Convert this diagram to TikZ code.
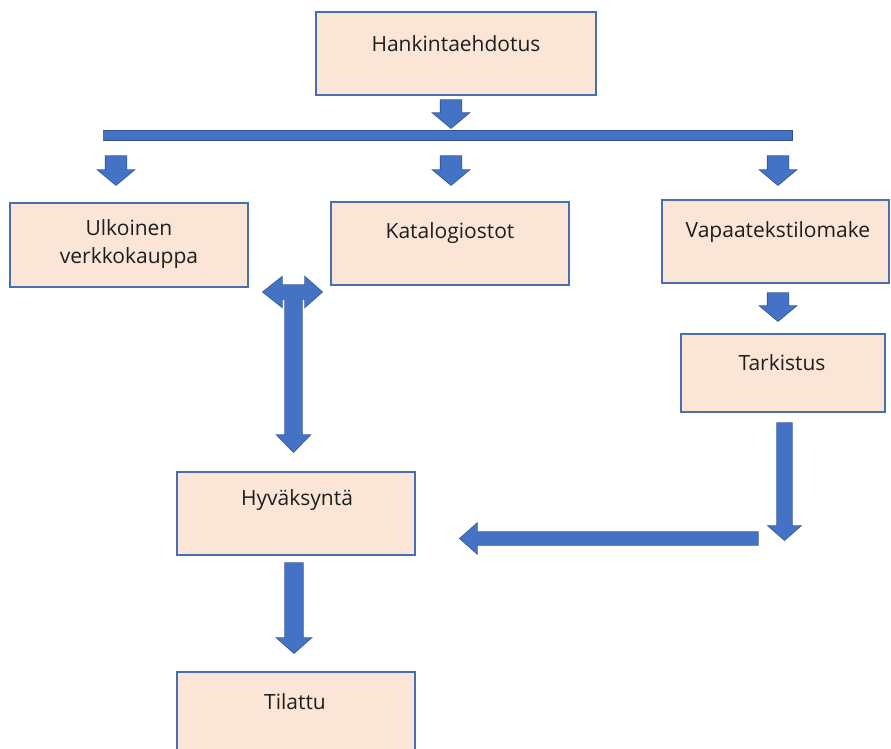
\documentclass[tikz,border=0pt]{standalone}
\usepackage{fontspec}
\setmainfont{Open Sans}
\definecolor{boxfill}{HTML}{FBE5D6}
\definecolor{boxline}{HTML}{4A6FAF}
\definecolor{arrfill}{HTML}{4472C4}
\definecolor{arrline}{HTML}{2F528F}
\definecolor{txt}{HTML}{1E1E1E}
\tikzset{
  box/.style={draw=boxline, line width=1.6pt, fill=boxfill, rectangle, inner sep=0pt},
  lbl/.style={text=txt, font=\fontsize{21}{28}\selectfont, align=center, inner sep=0pt},
  arrowedge/.style={draw=arrline, line width=1.4pt, line join=miter},
  arrowbody/.style={fill=arrfill},
}
% block arrow pointing down: cx, ytop, yhead, ytip, half shaft, half head
\newcommand{\blkdownpath}[6]{({#1-#5},#2) -- ({#1+#5},#2) -- ({#1+#5},#3) -- ({#1+#6},#3) -- (#1,#4) -- ({#1-#6},#3) -- ({#1-#5},#3) -- cycle}
\newcommand{\blkdown}[6]{%
  \draw[arrowedge] \blkdownpath{#1}{#2}{#3}{#4}{#5}{#6};
  \fill[arrowbody] \blkdownpath{#1}{#2}{#3}{#4}{#5}{#6};}
% block arrow pointing left: yc, xright, xhead, xtip, half shaft, half head
\newcommand{\blkleftpath}[6]{(#2,{#1-#5}) -- (#3,{#1-#5}) -- (#3,{#1-#6}) -- (#4,#1) -- (#3,{#1+#6}) -- (#3,{#1+#5}) -- (#2,{#1+#5}) -- cycle}
% horizontal double arrow: yc, xleft tip, xleft head, xright head, xright tip, half shaft, half head
\newcommand{\blkdoublepath}[7]{(#2,#1) -- (#3,{#1-#7}) -- (#3,{#1-#6}) -- (#4,{#1-#6}) -- (#4,{#1-#7}) -- (#5,#1) -- (#4,{#1+#7}) -- (#4,{#1+#6}) -- (#3,{#1+#6}) -- (#3,{#1+#7}) -- cycle}
\begin{document}
\begin{tikzpicture}[x=1pt,y=-1pt]
\useasboundingbox[fill=white] (0,0) rectangle (891,749);

% process boxes
\node[box, minimum width=280pt, minimum height=83pt] (hank) at (456,53.5) {};
\node[box, minimum width=238pt, minimum height=84pt] (ulko) at (129,245) {};
\node[box, minimum width=238pt, minimum height=83pt] (kata) at (450,243.5) {};
\node[box, minimum width=227pt, minimum height=83pt] (vapaa) at (775.5,241.5) {};
\node[box, minimum width=204pt, minimum height=78pt] (tark) at (783,373) {};
\node[box, minimum width=238pt, minimum height=83pt] (hyv) at (296,513.5) {};
\node[box, minimum width=238pt, minimum height=90pt] (tila) at (296,717) {};

% box texts
\node[lbl] (thank) at (456,44) {Hankintaehdotus};
\node[lbl] (tulko1) at (129,228) {Ulkoinen};
\node[lbl] (tulko2) at (129,258) {verkkokauppa};
\node[lbl] (tkata) at (450,233) {Katalogiostot};
\node[lbl] (tvapaa) at (778,232) {Vapaatekstilomake};
\node[lbl] (ttark) at (782,363) {Tarkistus};
\node[lbl] (thyv) at (297,500) {Hyväksyntä};
\node[lbl] (ttila) at (295,702) {Tilattu};

% distribution bar
\draw[arrowedge, line width=1pt] (103,131) rectangle (792,140);
\fill[arrowbody] (103,131) rectangle (792,140);

% short block arrows
\blkdown{451}{100}{113}{128}{10.5}{18}
\blkdown{116}{156}{170}{185}{10.5}{18}
\blkdown{451}{156}{170}{185}{10.5}{18}
\blkdown{778}{156}{170}{185}{10.5}{18}
\blkdown{778}{293}{306}{321}{10.5}{18}

% approval to ordered
\blkdown{294}{563}{638}{653}{9}{17}

% check downwards, then back to approval
\blkdown{784.5}{423}{526}{540}{7.5}{16}
\draw[arrowedge] \blkleftpath{538.5}{758}{477}{460}{6.5}{15};
\fill[arrowbody] \blkleftpath{538.5}{758}{477}{460}{6.5}{15};

% shops to approval (T-shaped arrow)
\draw[arrowedge] \blkdoublepath{292}{263}{282}{305}{322}{7}{15};
\draw[arrowedge] \blkdownpath{293.5}{286}{435}{452}{8.5}{16.5};
\fill[arrowbody] \blkdoublepath{292}{263}{282}{305}{322}{7}{15};
\fill[arrowbody] \blkdownpath{293.5}{286}{435}{452}{8.5}{16.5};
\end{tikzpicture}
\end{document}
